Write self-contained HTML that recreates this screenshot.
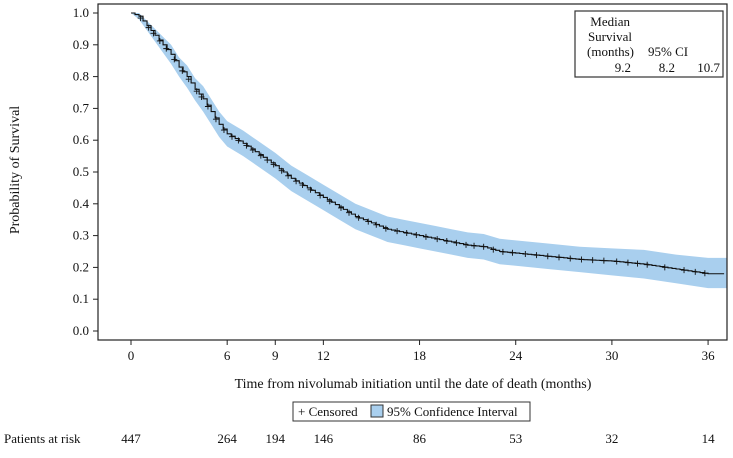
<!DOCTYPE html>
<html><head><meta charset="utf-8"><style>
body{margin:0;background:#fff;}
svg text{font-family:"Liberation Serif",serif;fill:#111;}
</style></head><body>
<svg width="733" height="453" xmlns="http://www.w3.org/2000/svg">
<g id="plot"></g>
</svg>
<script>
const months=[0,0.5,1,1.5,2,2.5,3,3.5,4,4.5,5,5.5,6,7,8,9,10,11,12,13,14,15,16,17,18,19,20,21,22,23,24,26,28,30,32,34,36,37.2];
const survival=[1.0,0.99,0.96,0.93,0.9,0.87,0.83,0.8,0.76,0.73,0.69,0.65,0.62,0.59,0.555,0.52,0.48,0.45,0.42,0.39,0.36,0.34,0.32,0.31,0.3,0.29,0.28,0.27,0.265,0.25,0.245,0.235,0.225,0.22,0.21,0.195,0.18,0.18];
const lower=[1.0,0.98,0.945,0.91,0.875,0.84,0.8,0.765,0.725,0.69,0.65,0.61,0.58,0.55,0.515,0.48,0.44,0.41,0.38,0.35,0.32,0.3,0.28,0.27,0.26,0.25,0.24,0.23,0.225,0.21,0.205,0.195,0.185,0.175,0.165,0.15,0.135,0.135];
const upper=[1.0,1.0,0.975,0.95,0.925,0.9,0.86,0.835,0.795,0.77,0.73,0.69,0.66,0.63,0.595,0.56,0.52,0.49,0.46,0.43,0.4,0.38,0.36,0.35,0.34,0.33,0.32,0.31,0.305,0.29,0.285,0.275,0.265,0.26,0.255,0.24,0.23,0.23];
const xTicks=[0,6,9,12,18,24,30,36];
const yTicks=[0,0.1,0.2,0.3,0.4,0.5,0.6,0.7,0.8,0.9,1.0];
const atRisk=[447,264,194,146,86,53,32,14];
const atRiskMonths=[0,6,9,12,18,24,30,36];
const censorMonths=[0.6,1.1,1.4,1.8,2.2,2.7,3.2,3.6,4.1,4.4,4.8,5.3,5.8,6.3,6.7,7.2,7.6,8.1,8.5,8.9,9.4,9.8,10.3,10.7,11.2,11.8,12.4,13.1,13.6,14.2,14.8,15.3,15.9,16.6,17.2,17.8,18.4,19.1,19.7,20.3,20.9,21.4,22,22.6,23.2,23.8,24.6,25.3,26,26.7,27.4,28.1,28.8,29.5,30.3,31,31.6,32.2,33.3,34.5,35.2,35.8];
const X=m=>131+m*16.03, Y=v=>331-v*318;
const ns="http://www.w3.org/2000/svg", svg=document.querySelector('svg');
function mk(t,a,p){const e=document.createElementNS(ns,t);for(const k in a)e.setAttribute(k,a[k]);(p||svg).appendChild(e);return e;}
function interp(arr,m){for(let i=1;i<months.length;i++){if(m<=months[i]){const f=(m-months[i-1])/(months[i]-months[i-1]);return arr[i-1]+f*(arr[i]-arr[i-1]);}}return arr[arr.length-1];}
// band (linear)
let d='M'+months.map((m,i)=>X(m)+','+Y(upper[i])).join(' L');
for(let i=months.length-1;i>=0;i--)d+=' L'+X(months[i])+','+Y(lower[i]);
d+=' Z';
let band=mk('path',{d:d,fill:'#a9cfee',stroke:'none'});


// fine step curve following data
let ld='M'+X(0)+','+Y(survival[0]);
const last=months[months.length-1];
for(let m=0.25;m<=last+0.001;m+=0.25){ld+=' H'+X(m)+' V'+Y(interp(survival,m));}
let line=mk('path',{d:ld,fill:'none',stroke:'#111','stroke-width':1.1});


censorMonths.forEach(m=>{const x=X(m),y=Y(interp(survival,m));
const c=mk('path',{d:`M${x-3},${y}H${x+3}M${x},${y-3}V${y+3}`,stroke:'#111','stroke-width':0.9});

});
let fr=mk('rect',{x:98,y:4,width:629,height:336,fill:'none',stroke:'#222','stroke-width':1.2});


yTicks.forEach(v=>{mk('line',{x1:93,x2:98,y1:Y(v),y2:Y(v),stroke:'#222'});
const t=mk('text',{x:89,y:Y(v)+4,'text-anchor':'end','font-size':13});t.textContent=v.toFixed(1);

});
xTicks.forEach(v=>{mk('line',{x1:X(v),x2:X(v),y1:340,y2:345,stroke:'#222'});
const t=mk('text',{x:X(v),y:360,'text-anchor':'middle','font-size':13});t.textContent=v;

});
atRisk.forEach((n,i)=>{const t=mk('text',{x:X(atRiskMonths[i]),y:443,'text-anchor':'middle','font-size':13});t.textContent=n;

});
</script>
<svg width="733" height="453" style="position:absolute;left:0;top:0" xmlns="http://www.w3.org/2000/svg">
<style>text{font-family:"Liberation Serif",serif;fill:#111;}</style>
<text x="19" y="170" font-size="14" text-anchor="middle" transform="rotate(-90 19 170)">Probability of Survival</text>
<text x="413" y="388" font-size="14" text-anchor="middle">Time from nivolumab initiation until the date of death (months)</text>
<g>
<rect x="293" y="402" width="237" height="19" fill="none" stroke="#333"/>
<text x="298" y="416" font-size="13">+ Censored</text>
<rect x="371" y="405" width="12" height="12" fill="#a9cfee" stroke="#333"/>
<text x="387" y="416" font-size="13">95% Confidence Interval</text>
</g>
<text x="4" y="443" font-size="13">Patients at risk</text>
<g>
<rect x="575" y="11" width="148" height="66" fill="#fff" stroke="#333" stroke-width="1.2"/>
<text x="630" y="26" font-size="13" text-anchor="end">Median</text>
<text x="632" y="41" font-size="13" text-anchor="end">Survival</text>
<text x="634" y="56" font-size="13" text-anchor="end">(months)</text>
<text x="648" y="56" font-size="13">95% CI</text>
<text x="631" y="72" font-size="13" text-anchor="end">9.2</text>
<text x="675" y="72" font-size="13" text-anchor="end">8.2</text>
<text x="720" y="72" font-size="13" text-anchor="end">10.7</text>
</g>
</svg>
</body></html>
